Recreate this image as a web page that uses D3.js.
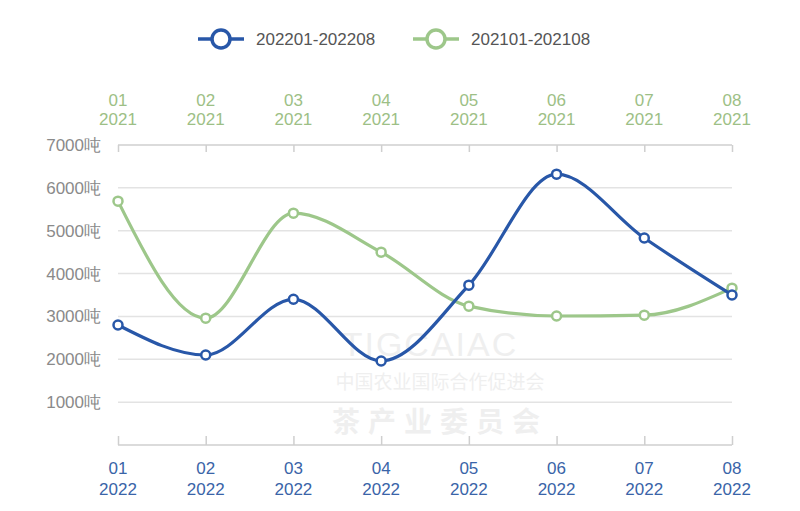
<!DOCTYPE html>
<html><head><meta charset="utf-8">
<script src="https://cdn.jsdelivr.net/npm/d3@7"></script>
<style>body{margin:0;background:#fff;font-family:"Liberation Sans",Arial,sans-serif}</style>
</head><body><svg id="c" width="800" height="511"></svg>
<script>
const months = ["01","02","03","04","05","06","07","08"];
const yearTop = "2021";
const yearBottom = "2022";
const series2022 = [2800, 2100, 3400, 1960, 3730, 6320, 4830, 3500];
const series2021 = [5690, 2960, 5410, 4500, 3240, 3010, 3030, 3660];
const yTicks = [1000, 2000, 3000, 4000, 5000, 6000, 7000];
const legendNames = ["202201-202208", "202101-202108"];

const blue = "#2857a8", green = "#9dc78a";
const svg = d3.select("#c");
const x = d3.scalePoint().domain(months).range([118, 732]);
const y = d3.scaleLinear().domain([0, 7000]).range([445, 145]);

// watermark
const wm = svg.append("g").attr("fill", "#efefef").attr("text-anchor", "middle");
wm.append("text").attr("x", 430).attr("y", 356).attr("font-size", 34).attr("letter-spacing", 2).text("TIGCAIAC");
wm.append("text").attr("x", 440).attr("y", 389).attr("font-size", 19).attr("font-family", "Noto Sans CJK SC").text("中国农业国际合作促进会");
wm.append("text").attr("x", 440).attr("y", 432).attr("font-size", 28).attr("letter-spacing", 8).attr("font-family", "Noto Sans CJK SC").attr("font-weight", "bold").text("茶产业委员会");

// grid
svg.append("g").selectAll("line").data(yTicks.filter(d => d < 7000)).join("line")
  .attr("x1", 118).attr("x2", 732).attr("y1", d => y(d)).attr("y2", d => y(d))
  .attr("stroke", "#e3e3e3").attr("stroke-width", 1.5);

// y labels
svg.append("g").selectAll("text").data(yTicks).join("text")
  .attr("x", 101).attr("y", d => y(d) + 6).attr("text-anchor", "end")
  .attr("font-size", 17).attr("fill", "#8a8a8a").text(d => d + "吨");

// top axis
const topAx = svg.append("g").attr("transform", "translate(0,145)")
  .call(d3.axisBottom(x).tickSize(7).tickFormat(""));
topAx.select(".domain").attr("stroke", "#cfcfcf").attr("stroke-width", 1.5).attr("d", "M118,0H732");
topAx.selectAll(".tick line").attr("stroke", "#cfcfcf").attr("stroke-width", 1.5);

const botAx = svg.append("g").attr("transform", "translate(0,445)")
  .call(d3.axisTop(x).tickSize(9).tickFormat(""));
botAx.select(".domain").attr("stroke", "#cfcfcf").attr("stroke-width", 1.5).attr("d", "M118,0H732");
botAx.selectAll(".tick line").attr("stroke", "#cfcfcf").attr("stroke-width", 1.5);

// top labels
const tl = svg.append("g").selectAll("text").data(months).join("text")
  .attr("text-anchor", "middle").attr("fill", "#9dbf86").attr("font-size", 17);
tl.append("tspan").attr("x", d => x(d)).attr("y", 106).text(d => d);
tl.append("tspan").attr("x", d => x(d)).attr("y", 125).text(yearTop);

const bl = svg.append("g").selectAll("text").data(months).join("text")
  .attr("text-anchor", "middle").attr("fill", "#3a64a8").attr("font-size", 17);
bl.append("tspan").attr("x", d => x(d)).attr("y", 474).text(d => d);
bl.append("tspan").attr("x", d => x(d)).attr("y", 495).text(yearBottom);

// lines
const line = d3.line().x((d, i) => x(months[i])).y(d => y(d)).curve(d3.curveMonotoneX);
function drawSeries(data, color) {
  svg.append("path").datum(data).attr("d", line).attr("fill", "none")
    .attr("stroke", color).attr("stroke-width", 3.2);
  svg.append("g").selectAll("circle").data(data).join("circle")
    .attr("cx", (d, i) => x(months[i])).attr("cy", d => y(d)).attr("r", 4.5)
    .attr("fill", "#fff").attr("stroke", color).attr("stroke-width", 2.5);
}
drawSeries(series2021, green);
drawSeries(series2022, blue);

// legend
const leg = [{n: legendNames[0], c: blue, x: 198}, {n: legendNames[1], c: green, x: 413}];
leg.forEach(l => {
  const g = svg.append("g");
  g.append("line").attr("x1", l.x).attr("x2", l.x + 46).attr("y1", 39).attr("y2", 39).attr("stroke", l.c).attr("stroke-width", 3.5);
  g.append("circle").attr("cx", l.x + 23).attr("cy", 39).attr("r", 9).attr("fill", "#fff").attr("stroke", l.c).attr("stroke-width", 3.5);
  g.append("text").attr("x", l.x + 58).attr("y", 45).attr("font-size", 17).attr("fill", "#555").text(l.n);
});
</script></body></html>
